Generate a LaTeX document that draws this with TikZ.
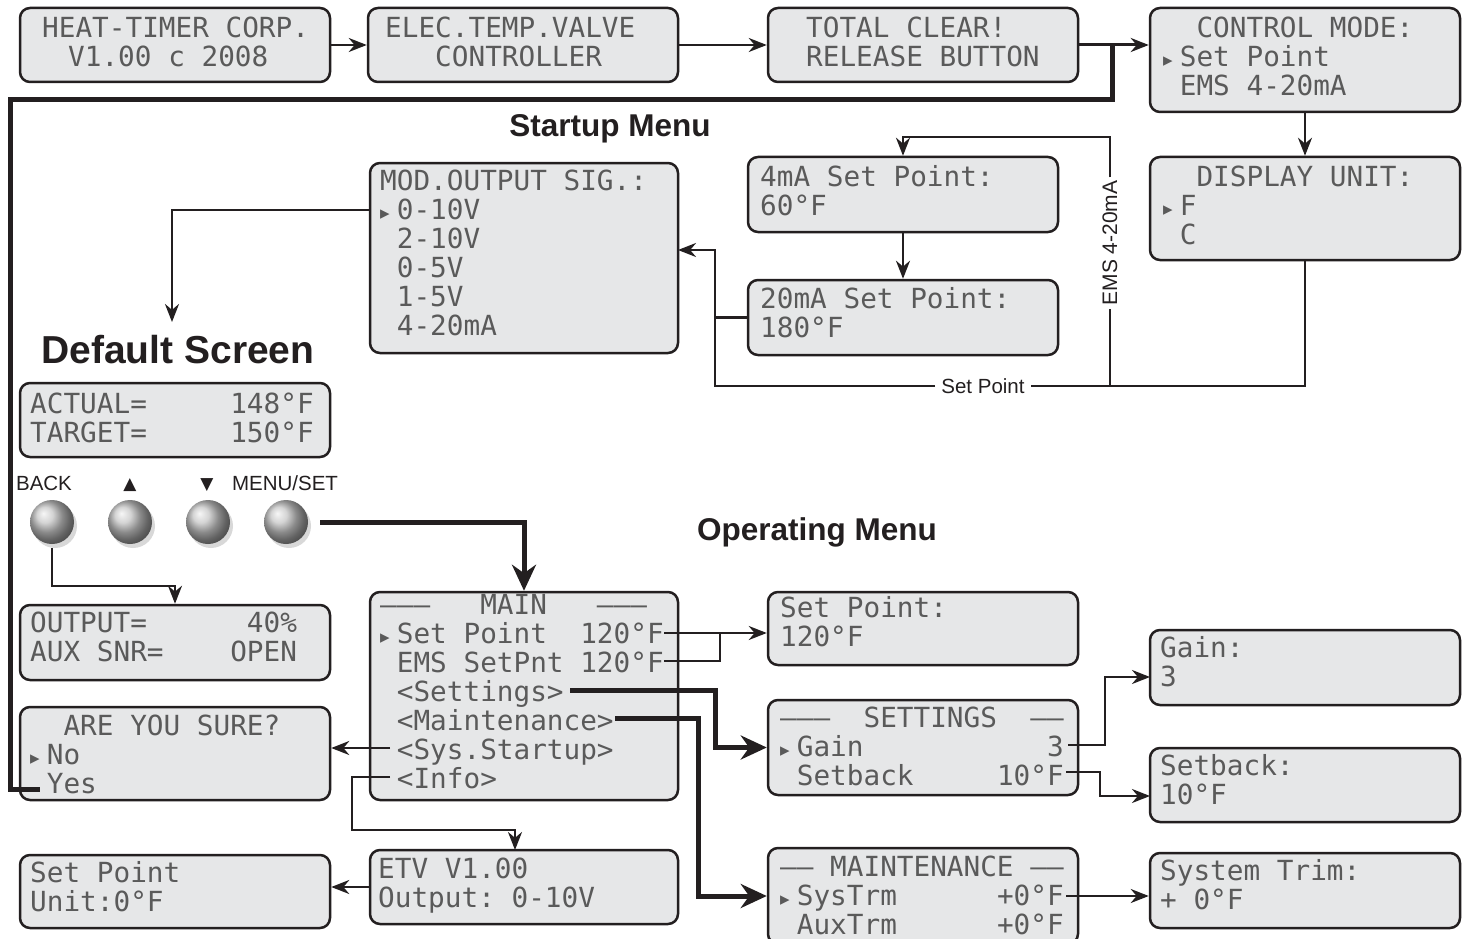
\documentclass[tikz,border=0pt]{standalone}
\usepackage{fontspec}
\setmainfont{Liberation Sans}
\setmonofont{DejaVu Sans Mono}
\newfontfamily\symf{DejaVu Sans}
\usetikzlibrary{arrows.meta,calc,shadows}

\definecolor{lcdfill}{HTML}{E6E7E8}
\definecolor{lcdink}{HTML}{5A5A5A}
\definecolor{ink}{HTML}{231F20}

\newcommand{\cur}{\makebox[16.68pt][l]{\symf\fontsize{19}{19}\selectfont ▸}}
\newcommand{\dd}{–}

\tikzset{
  lcd/.style={draw=ink, line width=2.5pt, fill=lcdfill, rounded corners=10pt, inner sep=0pt},
  lcdtxt/.style={anchor=north west, inner sep=0pt, align=left, text=lcdink,
    font=\ttfamily\fontsize{27.7}{29}\selectfont},
  conn/.style={draw=ink, line width=2.5pt},
  arr/.style={conn, -{Stealth[length=18pt,width=14pt]}},
  heavy/.style={draw=ink, line width=5pt},
  heavyarr/.style={heavy, -{Stealth[length=26pt,width=24pt]}},
  title/.style={font=\bfseries\fontsize{31.5}{36}\selectfont, text=ink, inner sep=0pt},
  lbl/.style={font=\fontsize{20.5}{24}\selectfont, text=ink},
  btn/.style={circle, minimum size=44pt, inner sep=0pt, ball color=gray!45,
    drop shadow={shadow xshift=3pt, shadow yshift=-4pt, opacity=0.3}}
}

% name, x1, y1, x2, y2, text x, first baseline, lines
\newcommand{\lcd}[8]{%
  \node[lcd, minimum width={#4-#2}, minimum height={#5-#3}] (#1) at ({(#2+#4)/2},{(#3+#5)/2}) {};
  \node[lcdtxt] (#1-t) at (#6,{#7-24}) {\rule{0pt}{24pt}#8};
}

\begin{document}
\begin{tikzpicture}[x=1pt,y=-1pt]
\path[use as bounding box, fill=white] (0,0) rectangle (1467,939);

% ---------- screens ----------
\lcd{b1}{20}{8}{330}{82}{42}{37}{HEAT-TIMER CORP.\\\hspace*{26pt}V1.00 c 2008}
\lcd{b2}{368}{8}{678}{82}{385}{37}{ELEC.TEMP.VALVE\\~~~CONTROLLER}
\lcd{b3}{768}{8}{1078}{82}{806}{37}{TOTAL CLEAR!\\RELEASE BUTTON}
\lcd{b4}{1150}{8}{1460}{112}{1163}{37}{~~CONTROL MODE:\\\cur Set Point\\~EMS 4-20mA}
\lcd{bdisp}{1150}{157}{1460}{260}{1163}{186}{~~DISPLAY UNIT:\\\cur F\\~C}
\lcd{b4ma}{748}{157}{1058}{232}{760}{186}{4mA Set Point:\\60°F}
\lcd{b20ma}{748}{280}{1058}{355}{760}{308}{20mA Set Point:\\180°F}
\lcd{bmod}{370}{163}{678}{353}{380}{190}{MOD.OUTPUT SIG.:\\\cur 0-10V\\~2-10V\\~0-5V\\~1-5V\\~4-20mA}
\lcd{bact}{20}{383}{330}{457}{30}{413}{ACTUAL=~~~~~148°F\\TARGET=~~~~~150°F}
\lcd{bout}{20}{605}{330}{680}{30}{632}{OUTPUT=~~~~~~40\%\\AUX SNR=~~~~OPEN}
\lcd{bsure}{20}{707}{330}{800}{30}{735}{~~ARE YOU SURE?\\\cur No\\~Yes}
\lcd{bmain}{370}{592}{678}{800}{380}{614}{\dd\dd\dd~~~MAIN~~~\dd\dd\dd\\\cur Set Point~~120°F\\~EMS SetPnt~120°F\\~<Settings>\\~<Maintenance>\\~<Sys.Startup>\\~<Info>}
\lcd{bsp}{768}{592}{1078}{665}{780}{617}{Set Point:\\120°F}
\lcd{bset}{768}{700}{1078}{795}{780}{727}{\dd\dd\dd~~SETTINGS~~\dd\dd\\\cur Gain~~~~~~~~~~~3\\~Setback~~~~~10°F}
\lcd{bmaint}{768}{848}{1078}{944}{780}{876}{\dd\dd~MAINTENANCE~\dd\dd\\\cur SysTrm~~~~~~+0°F\\~AuxTrm~~~~~~+0°F}
\lcd{bgain}{1150}{630}{1460}{705}{1160}{657}{Gain:\\3}
\lcd{bsetback}{1150}{748}{1460}{822}{1160}{775}{Setback:\\10°F}
\lcd{btrim}{1150}{853}{1460}{928}{1160}{880}{System Trim:\\+ 0°F}
\lcd{bunit}{20}{855}{330}{928}{30}{882}{Set Point\\Unit:0°F}
\lcd{betv}{370}{850}{678}{924}{378}{878}{ETV V1.00\\Output: 0-10V}

% ---------- titles and labels ----------
\node[title, anchor=base] (tstart) at (610,137) {Startup Menu};
\node[title, anchor=base, font=\bfseries\fontsize{39}{44}\selectfont] (tdef) at (178,363) {Default Screen};
\node[title, anchor=base] (topm) at (817,540) {Operating Menu};
\node[lbl, anchor=base] (lback) at (44,490) {BACK};
\node[lbl, anchor=base, font=\symf\fontsize{17}{20}\selectfont] (lup) at (130,489) {▲};
\node[lbl, anchor=base, font=\symf\fontsize{17}{20}\selectfont] (ldown) at (207,489) {▼};
\node[lbl, anchor=base] (lmenu) at (285,490) {MENU/SET};
\node[lbl, inner sep=6pt] (spl) at (983,386) {Set Point};
\node[lbl, inner sep=3pt, rotate=90, font=\fontsize{21}{24}\selectfont] (emsl) at (1110,243) {EMS 4-20mA};

% ---------- buttons ----------
\node[btn] (bback) at (52,522) {};
\node[btn] (bup) at (130,522) {};
\node[btn] (bdown) at (208,522) {};
\node[btn] (bmenu) at (286,522) {};

% ---------- connectors ----------
\coordinate (j1) at (1112,45);
\coordinate (loopA) at (1112,100);
\coordinate (loopB) at (10,100);
\coordinate (yes) at (40,789);
\coordinate (spc) at (715,386);
\coordinate (modin) at (678,250);
\coordinate (emstop) at (1110,137);
\coordinate (emsj) at (1110,386);
\coordinate (mod010) at (370,210);
\coordinate (dsin) at (172,322);
\coordinate (backc) at (52,586);
\coordinate (mainsp) at (664,633);
\coordinate (mainems) at (664,661);
\coordinate (jsp) at (720,633);
\coordinate (mainset) at (570,690);
\coordinate (setc) at (715,690);
\coordinate (mainmnt) at (615,718);
\coordinate (mntc) at (698,718);
\coordinate (mainsys) at (390,748);
\coordinate (maininfo) at (390,777);
\coordinate (infoa) at (352,830);
\coordinate (etvin) at (515,850);
\coordinate (setgain) at (1068,745);
\coordinate (gainc) at (1105,745);
\coordinate (gainin) at (1150,677);
\coordinate (setsb) at (1066,772);
\coordinate (sbc) at (1100,772);
\coordinate (sbin) at (1150,796);
\coordinate (mntsys) at (1066,896);

\draw[arr] (b1.east) -- (b2.west);
\draw[arr] (b2.east) -- (b3.west);
\draw[arr, line width=3pt] (b3.east) -- (b4.west |- b3.east);
\draw[heavy] (j1) -- (loopA) -- (loopB) |- (yes);

\draw[arr] (b4.south) -- (bdisp.north);
\draw[conn] (bdisp.south) |- (spl.east);
\draw[arr] (spl.west) -- (spc) |- (modin);
\draw[conn] (b20ma.west) -- (b20ma.west -| spc);
\draw[conn] (emsj) -- (emsl.west);
\draw[arr] (emsl.east) -- (emstop) -| (b4ma.north);
\draw[arr] (b4ma.south) -- (b20ma.north);
\draw[arr] (mod010) -| (dsin);

\draw[heavyarr, shorten <=12pt] (bmenu.east) -| (bmain.north);
\draw[arr, shorten <=4pt] (bback.south) -- (backc) -| (bout.north);

\draw[arr] (mainsp) -- (bsp.west |- mainsp);
\draw[conn] (mainems) -| (jsp);
\draw[heavyarr] (mainset) -- (setc) |- (bset.west);
\draw[heavyarr] (mainmnt) -- (mntc) |- (bmaint.west);
\draw[arr] (mainsys) -- (bsure.east |- mainsys);
\draw[arr] (maininfo) -| (infoa) -| (etvin);
\draw[arr] (betv.west) -- (bunit.east |- betv.west);

\draw[arr] (setgain) -- (gainc) |- (gainin);
\draw[arr] (setsb) -- (sbc) |- (sbin);
\draw[arr] (mntsys) -- (btrim.west |- mntsys);
\end{tikzpicture}
\end{document}
